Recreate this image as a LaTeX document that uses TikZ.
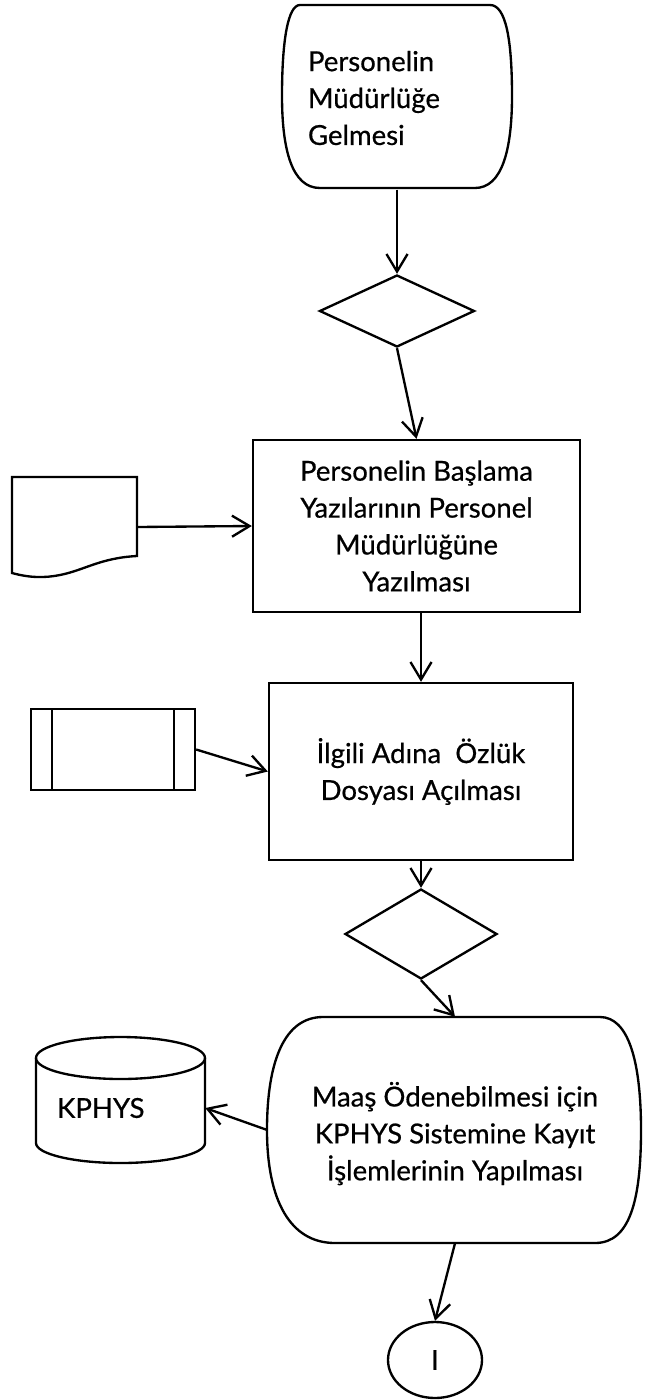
\documentclass[tikz,border=0pt]{standalone}
\usepackage{fontspec}
\setmainfont{Lato}[FakeBold=0.6]
\usetikzlibrary{arrows.meta,shapes.geometric}

\tikzset{
  akis/.style={line width=2pt},
  ok/.style={akis,-{Straight Barb[length=15pt,width=18pt]}},
  islem/.style={draw,akis,rectangle,align=center,inner sep=0pt},
  karar/.style={draw,akis,diamond,inner sep=0pt},
  bos/.style={rectangle,inner sep=0pt}
}

\begin{document}
\begin{tikzpicture}[x=0.03cm,y=-0.03cm,
  every node/.style={font=\fontsize{23.5}{31.5}\selectfont}]
  \useasboundingbox (0,0) rectangle (646,1400);

  % basla
  \node[bos,minimum width=6.9cm,minimum height=5.49cm,text width=5.34cm,align=left] (basla) at (397,98)
    {Personelin\\Müdürlüğe\\Gelmesi};
  \draw[akis] (300,5) -- (490,5) .. controls (506,5) and (512,40) .. (512,96)
    .. controls (512,150) and (502,188) .. (475,188) -- (320,188)
    .. controls (292,188) and (282,150) .. (282,96)
    .. controls (282,40) and (288,5) .. (300,5) -- cycle;

  \node[karar,minimum width=4.65cm,minimum height=2.16cm] (karar1) at (397,311) {};

  \node[islem,minimum width=9.81cm,minimum height=5.16cm] (yazilma) at (416.5,526)
    {Personelin Başlama\\Yazılarının Personel\\Müdürlüğüne\\Yazılması};

  % belge
  \node[bos,minimum width=3.75cm,minimum height=3cm] (belge) at (74.5,527) {};
  \draw[akis] (12,477) -- (137,477) -- (137,556) .. controls (100,558) and (85,570) .. (60,575)
    .. controls (45,578) and (30,578) .. (12,573) -- cycle;

  \node[islem,minimum width=9.12cm,minimum height=5.31cm] (ozluk) at (421,771.5)
    {İlgili Adına \ Özlük\\Dosyası Açılması};

  % dosya
  \node[islem,minimum width=4.92cm,minimum height=2.43cm] (dosya) at (113,749.5) {};
  \draw[akis] (52,709) -- (52,790) (174,709) -- (174,790);

  \node[karar,minimum width=4.56cm,minimum height=2.7cm] (karar2) at (421,934) {};

  % kayit
  \node[bos,minimum width=11.25cm,minimum height=6.78cm,align=center] (kayit) at (455,1130)
    {\rule{0pt}{0.95cm}Maaş Ödenebilmesi için\\KPHYS Sistemine Kayıt\\İşlemlerinin Yapılması};
  \draw[akis] (323,1017) -- (600,1017) .. controls (628,1017) and (641,1060) .. (641,1130)
    .. controls (641,1200) and (630,1243) .. (595,1243) -- (335,1243)
    .. controls (290,1243) and (267,1200) .. (267,1130)
    .. controls (267,1060) and (285,1017) .. (323,1017) -- cycle;

  % kphys
  \node[bos,minimum width=5.07cm,minimum height=3.78cm,text width=3.8cm,align=left] (kphys) at (120.5,1108) {KPHYS};
  \draw[akis] (120.5,1058) ellipse (84.5 and 21);
  \draw[akis] (36,1058) -- (36,1143) .. controls (36,1154) and (73.8,1163) .. (120.5,1163)
    .. controls (167.2,1163) and (205,1154) .. (205,1143) -- (205,1058);

  \node[draw,akis,ellipse,inner sep=0pt,minimum width=2.82cm,minimum height=2.28cm] (baglanti) at (435,1360) {I};

  \draw[ok] (basla.south) -- (karar1.north);
  \draw[ok] (karar1.south) -- (yazilma.north);
  \draw[ok] (belge.east) -- (yazilma.west);
  \draw[ok] (yazilma.south -| ozluk.north) -- (ozluk.north);
  \draw[ok] (dosya.east) -- (ozluk.west);
  \draw[ok] (ozluk.south) -- (karar2.north);
  \draw[ok] (karar2.south) -- (kayit.north);
  \draw[ok] (kayit.west) -- (kphys.east);
  \draw[ok] (kayit.south) -- (baglanti.north);
\end{tikzpicture}
\end{document}
